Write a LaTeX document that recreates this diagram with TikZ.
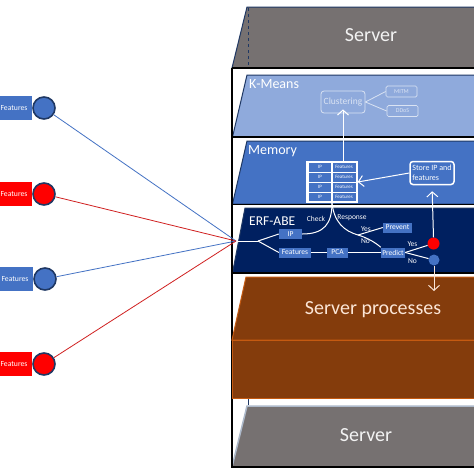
\documentclass[tikz,border=0pt]{standalone}
\usepackage{fontspec}
\setmainfont{Carlito}
\usetikzlibrary{arrows.meta}
\definecolor{srvgray}{HTML}{767171}
\definecolor{kmblue}{HTML}{8FAADC}
\definecolor{memblue}{HTML}{4472C4}
\definecolor{erfblue}{HTML}{002060}
\definecolor{navyedge}{HTML}{1F3864}
\definecolor{srvbrown}{HTML}{843C0C}
\definecolor{orangeedge}{HTML}{C55A11}
\definecolor{creamtext}{HTML}{FBE5D6}
\definecolor{lightline}{HTML}{DAE3F3}
\definecolor{topedge}{HTML}{ADB9CA}
\definecolor{redline}{HTML}{D02020}
\tikzset{
  layerpoly/.style={draw=navyedge, line width=1pt},
  framepath/.style={draw=black, line width=1.3pt},
  featbox/.style={rectangle, minimum width=36pt, minimum height=24pt, inner sep=0pt, text=white, font=\fontsize{7.7}{9}\selectfont},
  srcdot/.style={circle, minimum size=22pt, inner sep=0pt, draw=navyedge, line width=1.6pt},
  bigtitle/.style={font=\fontsize{20}{24}\selectfont},
  layertitle/.style={anchor=west, text=white, inner sep=0pt, font=\fontsize{14}{16}\selectfont},
  erfbox/.style={rectangle, fill=memblue, text=white, inner sep=0pt, minimum height=10pt, font=\fontsize{7.5}{9}\selectfont},
  kmbox/.style={rectangle, rounded corners=1.5pt, draw=lightline, line width=0.7pt, text=lightline, inner sep=0pt, font=\fontsize{6}{7}\selectfont},
  cellbox/.style={rectangle, draw=white, line width=0.6pt, minimum height=10pt, inner sep=0pt, text=white, font=\fontsize{5}{6}\selectfont},
  wline/.style={draw=white, line width=1pt},
  smalllabel/.style={text=white, inner sep=0pt, font=\fontsize{7.5}{9}\selectfont},
  openarrow/.style={-{Straight Barb[length=5pt,width=11pt]}},
}
\begin{document}
\begin{tikzpicture}[x=1pt,y=-1pt]
\useasboundingbox (0,0) rectangle (474,474);
\clip (0,0) rectangle (474,474);
\fill[white] (0,0) rectangle (474,474);

% ---- cabinet layers ----
\draw[layerpoly, fill=srvgray] (247,7) -- (480,7) -- (480,68) -- (232,68) -- cycle;
\draw[navyedge, dashed, line width=0.8pt] (248,8) -- (248,67);
\draw[layerpoly, fill=kmblue] (247,75) -- (480,75) -- (480,137) -- (232.5,137) -- cycle;
\draw[layerpoly, fill=memblue] (247,141) -- (480,141) -- (480,204) -- (232.5,204) -- cycle;
\draw[layerpoly, fill=erfblue] (245,208) -- (480,208) -- (480,273) -- (232.5,273) -- cycle;
\draw[draw=topedge, line width=1.5pt, fill=srvgray] (247,406) -- (480,406) -- (480,467) -- (232,467) -- cycle;
\draw[navyedge, line width=0.8pt] (248,399) -- (248,405);

% frame lines
\draw[framepath] (232,68) -- (232,467) -- (480,467);
\draw[framepath] (232,68) -- (480,68);
\draw[framepath] (232,137) -- (480,137);
\draw[framepath] (232,204.5) -- (480,204.5);
\draw[framepath] (232,273) -- (480,273);

% server processes block
\draw[draw=orangeedge, line width=1pt, fill=srvbrown] (246,277) -- (480,277) -- (480,340) -- (232,340) -- cycle;
\draw[draw=orangeedge, line width=1pt, fill=srvbrown] (232,340) rectangle (480,398);

% ---- titles ----
\node[bigtitle, text=white!95!black] (srvtop) at (371,35) {Server};
\node[layertitle] (kmtitle) at (249,84) {K-Means};
\node[layertitle] (memtitle) at (248,151) {Memory};
\node[layertitle, font=\fontsize{13.5}{16}\selectfont] (erftitle) at (249,221) {ERF-ABE};
\node[bigtitle, text=creamtext] (sproc) at (373,310) {Server processes};
\node[bigtitle, text=white!95!black] (srvbot) at (366,435) {Server};

% ---- K-Means content ----
\node[kmbox, rounded corners=3pt, line width=0.8pt, minimum width=44pt, minimum height=22pt, font=\fontsize{9.5}{11}\selectfont] (clust) at (343,102) {Clustering};
\node[kmbox, minimum width=31pt, minimum height=11pt] (mitm) at (401.5,91.5) {MITM};
\node[kmbox, minimum width=31pt, minimum height=11pt] (ddos) at (402.5,111) {DDoS};
\draw[lightline, line width=0.8pt] (clust.east) -- (mitm.west);
\draw[lightline, line width=0.8pt] (clust.east) -- (ddos.west);

% ---- Memory content ----
\node[rectangle, draw=white, line width=1.5pt, minimum width=50pt, minimum height=40pt, inner sep=0pt] (tbl) at (332,182) {};
\foreach \r [count=\i] in {167,177,187,197} {
  \node[cellbox, minimum width=24pt] (cip\i) at (320,\r) {IP};
  \node[cellbox, minimum width=26pt] (cft\i) at (344,\r) {Features};
}
\node[rectangle, rounded corners=3pt, draw=white, line width=1.5pt, minimum width=44pt, minimum height=23pt, inner sep=1.5pt, text=white, align=left, font=\fontsize{8}{10}\selectfont, fill=memblue] (store) at (432,173) {Store IP and\\features};
\draw[wline, openarrow] (store.west) -- (tbl.east);
\draw[wline, openarrow] (tbl.north -| clust.south) -- ([yshift=4pt]clust.south);

% ---- ERF-ABE content ----
\coordinate (conv) at (236,241);
\coordinate (br) at (258,241);
\node[erfbox, minimum width=23pt] (ip) at (290.5,234) {IP};
\node[erfbox, minimum width=32pt] (feat) at (295,252.5) {Features};
\node[erfbox, minimum width=21pt] (pca) at (337.5,252.5) {PCA};
\node[erfbox, minimum width=24pt] (predict) at (393,252.5) {Predict};
\node[erfbox, minimum width=29pt] (prevent) at (397.5,227.5) {Prevent};
\node[circle, fill=red, minimum size=12pt, inner sep=0pt] (reddot) at (433.5,243.5) {};
\node[circle, fill=memblue, minimum size=11pt, inner sep=0pt] (bluedot) at (434,260) {};
\coordinate (br2) at (358,235);
\coordinate (downend) at (434,291);

\draw[wline] (conv) -- (br);
\draw[wline] (br) -- (ip.west);
\draw[wline] (br) -- (feat.west);
\draw[wline] (feat.east) -- (pca.west);
\draw[wline] (pca.east) -- (predict.west);
\draw[wline] (ip.east) .. controls (324,234) and (332,224) .. (tbl.south);
\draw[wline] (tbl.south) .. controls (334,222) and (344,231) .. (br2);
\draw[wline] (br2) -- (prevent.west);
\draw[wline] (br2) .. controls (368,238) and (376,243) .. (predict.north west);
\draw[wline] (predict.east) -- (reddot);
\draw[wline] (predict.east) -- (bluedot);
\draw[wline, openarrow, shorten >=6pt] (reddot.north) -- (store.south);
\draw[draw=creamtext, line width=1pt, openarrow] (bluedot.south) -- (downend);

\node[smalllabel] (lcheck) at (316,219) {Check};
\node[smalllabel] (lresp) at (352,218) {Response};
\node[smalllabel] (lyes1) at (366,229) {Yes};
\node[smalllabel] (lno1) at (365.5,241.5) {No};
\node[smalllabel] (lyes2) at (412.5,244) {Yes};
\node[smalllabel] (lno2) at (412.5,261) {No};

% ---- sources ----
\node[featbox, fill=memblue] (f1) at (14,108) {Features};
\node[srcdot, fill=memblue] (c1) at (44,108) {};
\node[featbox, fill=red] (f2) at (14,194) {Features};
\node[srcdot, fill=red] (c2) at (44,194) {};
\node[featbox, fill=memblue] (f3) at (15,279) {Features};
\node[srcdot, fill=memblue] (c3) at (45,279) {};
\node[featbox, fill=red] (f4) at (14,364) {Features};
\node[srcdot, fill=red] (c4) at (44,364) {};

\draw[memblue, line width=0.8pt] (c1) -- (conv);
\draw[redline, line width=0.8pt] (c2) -- (conv);
\draw[memblue, line width=0.8pt] (c3) -- (conv);
\draw[redline, line width=0.8pt] (c4) -- (conv);
\end{tikzpicture}
\end{document}
